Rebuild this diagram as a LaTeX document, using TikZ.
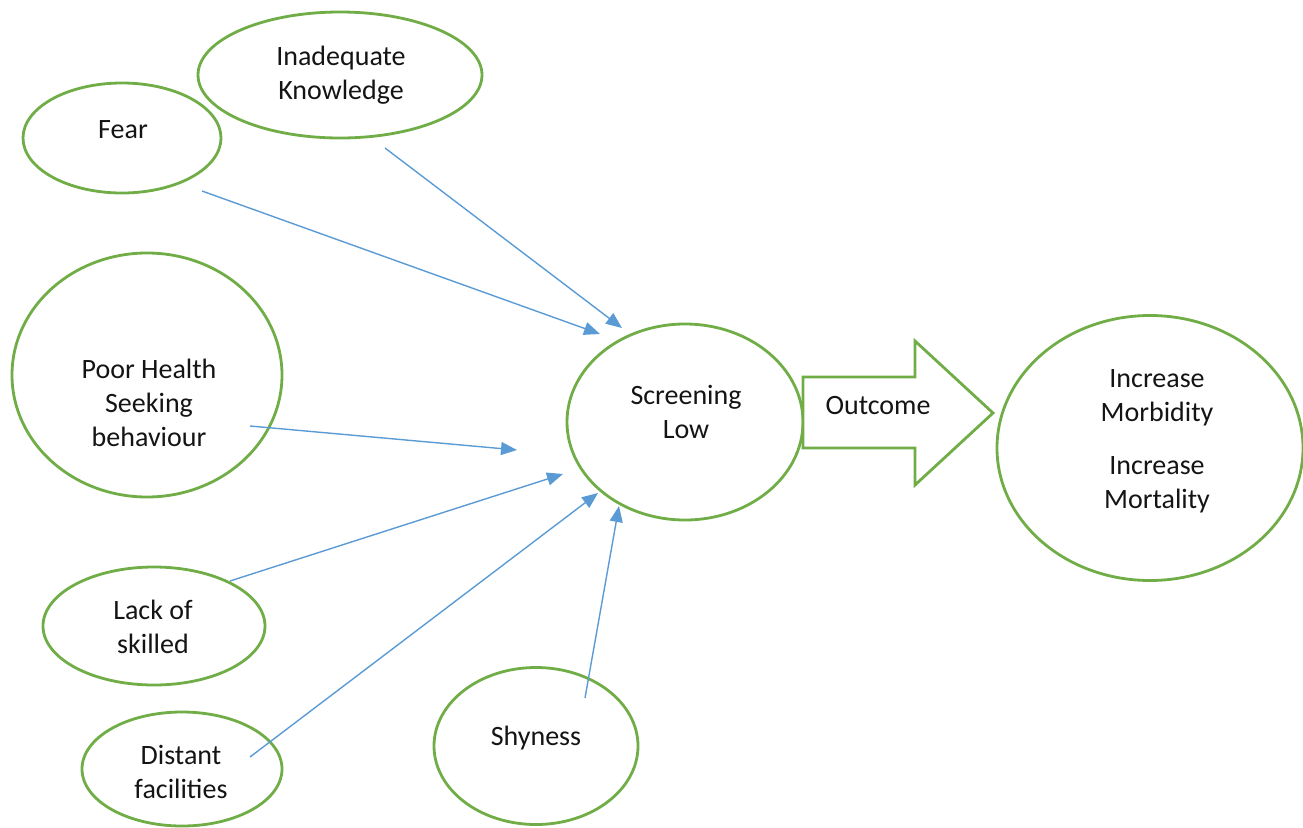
\documentclass[tikz,border=0pt]{standalone}
\usepackage{fontspec}
\setmainfont{Carlito}
\usetikzlibrary{arrows.meta,shapes.geometric}
\definecolor{grn}{HTML}{70AD47}
\definecolor{blu}{HTML}{5B9BD5}
\begin{document}
\begin{tikzpicture}[x=1pt,y=-1pt,
  bub/.style={shape=ellipse, draw=grn, line width=2.8pt, inner sep=0pt},
  txt/.style={align=center, font=\fontsize{28}{34}\selectfont, text=black!92},
  arr/.style={draw=blu, line width=1.4pt, -{Triangle[length=16pt,width=13pt]}}]
\useasboundingbox (0,0) rectangle (1303,827);
% ellipses
\node[bub, minimum width=284pt, minimum height=126pt] (ik) at (340,75) {};
\node[bub, minimum width=198pt, minimum height=110pt] (fe) at (122,138) {};
\node[bub, minimum width=270pt, minimum height=244pt] (ph) at (147,375) {};
\node[bub, minimum width=236pt, minimum height=196pt] (sl) at (685,422) {};
\node[bub, minimum width=306pt, minimum height=265pt] (im) at (1150,448) {};
\node[bub, minimum width=222pt, minimum height=118pt] (ls) at (154,626) {};
\node[bub, minimum width=200pt, minimum height=114pt] (df) at (182,769) {};
\node[bub, minimum width=204pt, minimum height=157pt] (sh) at (536,746) {};
% block arrow
\draw[draw=grn, line width=2.8pt, line join=miter, fill=white]
  (803,377) -- (915,377) -- (915,341) -- (993,413) -- (915,485) -- (915,448) -- (803,448) -- cycle;
% texts
\node[txt] (ikT) at (341,75) {Inadequate\\Knowledge};
\node[txt] (feT) at (123,130) {Fear};
\node[txt] (phT) at (149,403) {Poor Health\\Seeking\\behaviour};
\node[txt] (slT) at (686,412) {Screening\\Low};
\node[txt] (ouT) at (878,406) {Outcome};
\node[txt] (imT) at (1157,441) {Increase\\Morbidity\\[19pt]Increase\\Mortality};
\node[txt] (lsT) at (153,627) {Lack of\\skilled};
\node[txt] (dfT) at (181,772) {Distant\\facilities};
\node[txt] (shT) at (536,738) {Shyness};
% connector ends
\coordinate (ikS) at (385,148);  \coordinate (ikE) at (622,328);
\coordinate (feS) at (202,191);  \coordinate (feE) at (600,334);
\coordinate (phS) at (250,426);  \coordinate (phE) at (517,450);
\coordinate (lsS) at (230,581);  \coordinate (lsE) at (563,474);
\coordinate (dfS) at (250,757);  \coordinate (dfE) at (598,493);
\coordinate (shS) at (585,698);  \coordinate (shE) at (619,506);
\draw[arr] (ikS) -- (ikE);
\draw[arr] (feS) -- (feE);
\draw[arr] (phS) -- (phE);
\draw[arr] (lsS) -- (lsE);
\draw[arr] (dfS) -- (dfE);
\draw[arr] (shS) -- (shE);
\end{tikzpicture}
\end{document}
